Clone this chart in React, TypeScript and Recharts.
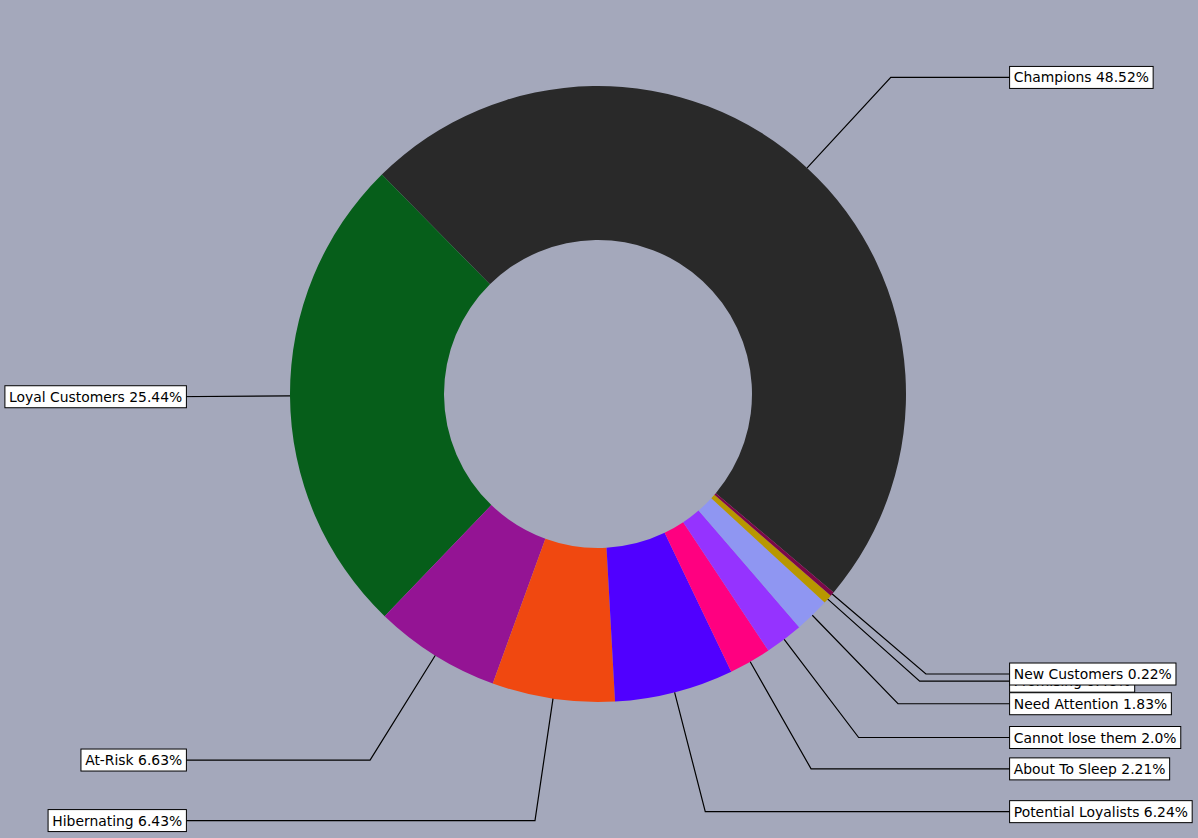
import { PieChart, Pie, Cell } from "recharts";

const segments = [
  "Champions",
  "Loyal Customers",
  "At-Risk",
  "Hibernating",
  "Potential Loyalists",
  "About To Sleep",
  "Cannot lose them",
  "Need Attention",
  "Promising",
  "New Customers",
];
const shares = [48.52, 25.44, 6.63, 6.43, 6.24, 2.21, 2.0, 1.83, 0.48, 0.22];
const colors = [
  "#292929",
  "#065e1a",
  "#941494",
  "#f04810",
  "#5000ff",
  "#ff0080",
  "#9533ff",
  "#8f96f2",
  "#b89700",
  "#7b0848",
];

const data = segments.map((name, i) => ({ name, value: shares[i] }));

const W = 1198;
const H = 838;
const CX = 598;
const CY = 394;
const R = 308;
const FONT = "13.9px 'DejaVu Sans'";
const RADIAN = Math.PI / 180;

const ctx = typeof document !== "undefined" ? document.createElement("canvas").getContext("2d") : null;
function textWidth(s: string) {
  if (!ctx) return s.length * 8;
  ctx.font = FONT;
  return ctx.measureText(s).width;
}

const fmt = (v: number) => (Number.isInteger(v) ? v.toFixed(1) : String(v));

function renderLabel(props: any) {
  const { midAngle, index } = props;
  const a = midAngle * RADIAN;
  const ux = Math.cos(a);
  const uy = Math.sin(a);
  const px = CX + R * ux;
  const py = CY - R * uy;
  const ly = CY - 1.4 * R * uy;
  const side = ux >= 0 ? 1 : -1;
  const lx = CX + side * 1.35 * R;
  // elbow: follow radial direction until the label's y
  const ex = Math.abs(uy) > 1e-3 ? px + ((py - ly) / uy) * ux : px;
  const text = `${segments[index]} ${fmt(shares[index])}%`;
  const tw = textWidth(text);
  const pad = 4.2;
  const bx = side > 0 ? lx - pad : lx - tw - pad;
  return (
    <g key={`lbl-${index}`}>
      <polyline
        points={`${px},${py} ${ex},${ly} ${lx},${ly}`}
        fill="none"
        stroke="#000"
        strokeWidth={1.2}
      />
      <rect x={bx} y={ly - 11} width={tw + pad * 2} height={22} fill="#fff" stroke="#000" strokeWidth={1} />
      <text
        x={side > 0 ? lx : lx - tw}
        y={ly + 5}
        fontFamily="'DejaVu Sans'"
        fontSize={13.9}
        fill="#000"
        textAnchor="start"
      >
        {text}
      </text>
    </g>
  );
}

export default function App() {
  return (
    <div style={{ position: "fixed", left: 0, top: 0, width: W, height: H, background: "#a4a8bb" }}>
      <PieChart width={W} height={H} margin={{ top: 0, right: 0, bottom: 0, left: 0 }}>
        <Pie
          data={data}
          dataKey="value"
          nameKey="name"
          cx={CX}
          cy={CY}
          innerRadius={R / 2}
          outerRadius={R}
          startAngle={-40.1}
          endAngle={319.9}
          stroke="none"
          label={renderLabel}
          labelLine={false}
          isAnimationActive={false}
        >
          {data.map((d, i) => (
            <Cell key={d.name} fill={colors[i]} />
          ))}
        </Pie>
      </PieChart>
    </div>
  );
}
